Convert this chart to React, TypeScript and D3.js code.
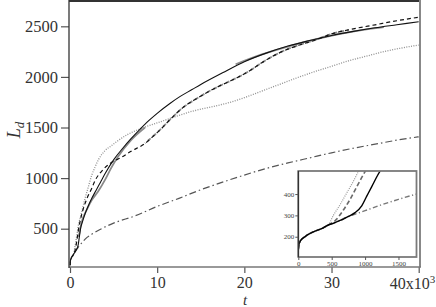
import React, { useRef, useEffect } from "react";
import * as d3 from "d3";

// t in units of 10^3, L_d values
const tCommon = [0, 0.005, 0.012, 0.025, 0.05, 0.1, 0.15, 0.225, 0.3, 0.375, 0.45];
const lCommon = [138, 152, 165, 177, 188, 200, 211, 223, 232, 242, 255];

const tSolid = [0.525, 0.6, 0.675, 0.75, 0.85, 0.95, 1.025, 1.1, 1.225, 1.4, 1.7, 2.06, 2.5, 3, 3.5, 4, 5, 6, 7, 8, 9, 10, 11.5, 12.6, 14, 15, 17.5, 20, 22.5, 25, 27.5, 30, 32.5, 35, 37.5, 40];
const lSolid = [263, 273, 283, 295, 313, 345, 390, 435, 507, 560, 640, 717, 800, 880, 960, 1040, 1180, 1290, 1390, 1480, 1565, 1640, 1740, 1805, 1875, 1925, 2040, 2150, 2235, 2305, 2360, 2410, 2450, 2485, 2515, 2545];

const tSolidGray = [1.0, 1.3, 1.9, 2.5, 3.2, 4, 4.7, 5.5, 7, 8.6, 12, 19, 22, 25, 28, 31, 34, 36];
const lSolidGray = [420, 553, 684, 783, 865, 980, 1096, 1210, 1375, 1500, NaN, 2125, 2222, 2300, 2368, 2425, 2470, 2492];

const tDashed = [0.55, 0.675, 0.775, 0.875, 1.0, 1.2, 1.5, 2.0, 2.5, 2.9, 3.6, 4.6, 5.9, 7, 8.6, 9.5, 10.5, 11.5, 13, 14.5, 16, 17.5, 19, 20.5, 22, 23.5, 25, 26.5, 28, 30, 32.5, 35, 37.5, 40];
const lDashed = [275, 325, 375, 434, 505, 590, 690, 810, 900, 980, 1065, 1145, 1205, 1265, 1342, 1410, 1490, 1580, 1700, 1785, 1860, 1925, 1985, 2055, 2140, 2215, 2275, 2320, 2360, 2425, 2475, 2515, 2555, 2590];

const tDashedGray = [8.6, 10, 11.5, 13, 14.5, 16, 17.5, 19, 20.5, 22, 23.5, 25, 26.5, 28, 30, 32];
const lDashedGray = [1345, 1450, 1580, 1700, 1785, 1860, 1925, 1985, 2055, 2140, 2215, 2277, 2322, 2362, 2425, 2465];

const tDotted = [0.525, 0.625, 0.725, 0.825, 0.9, 1.0, 1.3, 1.7, 2.06, 2.5, 2.83, 3.25, 4, 4.75, 5.5, 6.7, 8, 10, 12, 14, 16, 18, 20, 22, 24, 26, 28, 30, 32, 34, 36, 38, 40];
const lDotted = [300, 350, 405, 460, 505, 550, 650, 790, 900, 1030, 1100, 1180, 1270, 1320, 1370, 1435, 1485, 1545, 1605, 1660, 1700, 1740, 1795, 1860, 1925, 1990, 2050, 2105, 2160, 2205, 2250, 2285, 2315];

const tDashDot = [0.525, 0.6, 0.675, 0.8, 1.0, 1.25, 1.5, 1.77, 2.5, 3.5, 5, 7.5, 10, 12.5, 15, 17.5, 20, 22.5, 25, 27.5, 30, 32.5, 35, 37.5, 40];
const lDashDot = [263, 273, 285, 300, 322, 350, 375, 400, 445, 495, 555, 628, 720, 800, 885, 960, 1030, 1095, 1150, 1200, 1250, 1295, 1335, 1375, 1408];

const xTicks = [0, 10, 20, 30, 40];
const yTicks = [500, 1000, 1500, 2000, 2500];
const xTicksInset = [0, 500, 1000, 1500];
const yTicksInset = [200, 300, 400];

const font = "'Liberation Serif', serif";

const withCommon = (t, l) => {
  const n = tCommon.filter((v) => v < t[0]).length;
  return d3.zip(tCommon.slice(0, n).concat(t), lCommon.slice(0, n).concat(l));
};

const App = () => {
  const ref = useRef(null);

  useEffect(() => {
    const svg = d3.select(ref.current);
    svg.selectAll("*").remove();

    const x = d3.scaleLinear().domain([0, 40]).range([70, 418.7]);
    const y = d3.scaleLinear().domain([121.5, 2760]).range([267, 0]);

    const defs = svg.append("defs");
    defs.append("clipPath").attr("id", "mainClip")
      .append("rect").attr("x", 69.5).attr("y", 0).attr("width", 350).attr("height", 267);

    const series = [
      { pts: withCommon(tSolidGray, lSolidGray).filter((d) => d[0] >= 1.0), color: "#8a8a8a", w: 1.8, dash: null, off: 0, inset: false },
      { pts: d3.zip(tDashedGray, lDashedGray), color: "#8a8a8a", w: 1.8, dash: "4,3", off: 3.5, inset: false },
      { pts: withCommon(tDotted, lDotted), color: "#8f8f8f", w: 1.3, dash: "1,1.4", off: 0, inset: true, icolor: "#999", iw: 1.2, idash: "1,1.2" },
      { pts: withCommon(tDashDot, lDashDot), color: "#555", w: 1.2, dash: "7,3,1.5,3", off: 0, inset: true, icolor: "#777", iw: 1.4, idash: "5,2.5,1.2,2.5" },
      { pts: withCommon(tDashed, lDashed), color: "#111", w: 1.2, dash: "4,3", off: 0, inset: true, icolor: "#6a6a6a", iw: 1.6, idash: "4.5,2.5" },
      { pts: withCommon(tSolid, lSolid), color: "#111", w: 1.1, dash: null, off: 0, inset: true, icolor: "#000", iw: 1.4, idash: null },
    ];

    const line = d3.line()
      .defined((d) => !isNaN(d[1]))
      .x((d) => x(d[0]))
      .y((d) => y(d[1]))
      .curve(d3.curveMonotoneX);

    const g = svg.append("g").attr("clip-path", "url(#mainClip)");
    series.forEach((s) => {
      g.append("path")
        .attr("d", line(s.pts))
        .attr("fill", "none")
        .attr("stroke", s.color)
        .attr("stroke-width", s.w)
        .attr("stroke-dasharray", s.dash)
        .attr("stroke-dashoffset", s.off);
    });

    // frame
    svg.append("line").attr("x1", 69).attr("x2", 421).attr("y1", 1).attr("y2", 1)
      .attr("stroke", "#333").attr("stroke-width", 2);
    svg.append("line").attr("x1", 420).attr("x2", 420).attr("y1", 0).attr("y2", 267)
      .attr("stroke", "#888").attr("stroke-width", 2);

    // x axis
    const xAxis = svg.append("g")
      .attr("transform", "translate(0,267)")
      .call(d3.axisBottom(x).tickValues(xTicks).tickSize(6).tickPadding(4)
        .tickFormat((d) => (d === 40 ? "" : String(d))));
    xAxis.attr("font-family", font);
    xAxis.select(".domain").remove();
    xAxis.append("line").attr("x1", 69).attr("x2", 421).attr("y1", 0).attr("y2", 0)
      .attr("stroke", "#777").attr("stroke-width", 1.6);
    xAxis.selectAll(".tick line").attr("stroke", "#555").attr("stroke-width", 1.2);
    xAxis.selectAll("text").attr("font-family", font).attr("font-size", 16).attr("fill", "#333");
    const last = xAxis.append("text")
      .attr("x", x(40) - 29).attr("y", 22)
      .attr("text-anchor", "start")
      .attr("font-family", font).attr("font-size", 16).attr("fill", "#333");
    last.append("tspan").text("40x10");
    last.append("tspan").attr("dy", -6).attr("font-size", 11).text("3");

    // y axis
    const yAxis = svg.append("g")
      .attr("transform", "translate(69,0)")
      .call(d3.axisLeft(y).tickValues(yTicks).tickSize(8).tickPadding(3).tickFormat(d3.format("d")));
    yAxis.attr("font-family", font);
    yAxis.select(".domain").remove();
    yAxis.append("line").attr("x1", 0).attr("x2", 0).attr("y1", 0).attr("y2", 268)
      .attr("stroke", "#333").attr("stroke-width", 1.3);
    yAxis.selectAll(".tick line").attr("stroke", "#555").attr("stroke-width", 1.2);
    yAxis.selectAll("text").attr("font-family", font).attr("font-size", 16.5).attr("fill", "#333");

    // axis titles
    svg.append("text").attr("x", 245).attr("y", 305)
      .attr("text-anchor", "middle").attr("font-family", font).attr("font-style", "italic")
      .attr("font-size", 15).attr("fill", "#333").text("t");
    const yl = svg.append("text")
      .attr("transform", "translate(20,130) rotate(-90)")
      .attr("text-anchor", "middle").attr("font-family", font).attr("font-style", "italic")
      .attr("font-size", 18).attr("fill", "#333");
    yl.append("tspan").text("L");
    yl.append("tspan").attr("dy", 4).attr("font-size", 13).text("d");

    // inset
    const xi = d3.scaleLinear().domain([0, 1770]).range([298.3, 416.5]);
    const yi = d3.scaleLinear().domain([105, 508]).range([257, 171]);
    defs.append("clipPath").attr("id", "insetClip")
      .append("rect").attr("x", 298.3).attr("y", 171).attr("width", 118.2).attr("height", 86);
    svg.append("rect").attr("x", 298.3).attr("y", 171).attr("width", 118.2).attr("height", 86)
      .attr("fill", "#fff");
    const lineI = d3.line()
      .defined((d) => !isNaN(d[1]))
      .x((d) => xi(d[0] * 1000))
      .y((d) => yi(d[1]))
      .curve(d3.curveMonotoneX);
    const gi = svg.append("g").attr("clip-path", "url(#insetClip)");
    series.filter((s) => s.inset).forEach((s) => {
      gi.append("path")
        .attr("d", lineI(s.pts))
        .attr("fill", "none")
        .attr("stroke", s.icolor)
        .attr("stroke-width", s.iw)
        .attr("stroke-dasharray", s.idash);
    });
    svg.append("rect").attr("x", 298.3).attr("y", 171).attr("width", 118.2).attr("height", 86)
      .attr("fill", "none").attr("stroke", "#7a7a7a").attr("stroke-width", 1.8);
    svg.append("line").attr("x1", 298.3).attr("x2", 298.3).attr("y1", 171).attr("y2", 257)
      .attr("stroke", "#222").attr("stroke-width", 1);

    const xia = svg.append("g").attr("transform", "translate(0,257)")
      .call(d3.axisBottom(xi).tickValues(xTicksInset).tickSize(3).tickPadding(1).tickFormat(d3.format("d")));
    xia.attr("font-family", font);
    xia.select(".domain").remove();
    xia.selectAll(".tick line").attr("stroke", "#555");
    xia.selectAll("text").attr("font-size", 7).attr("fill", "#444");
    const yia = svg.append("g").attr("transform", "translate(298.3,0)")
      .call(d3.axisLeft(yi).tickValues(yTicksInset).tickSize(3).tickPadding(1).tickFormat(d3.format("d")));
    yia.attr("font-family", font);
    yia.select(".domain").remove();
    yia.selectAll(".tick line").attr("stroke", "#555");
    yia.selectAll("text").attr("font-size", 7).attr("fill", "#444");
  }, []);

  return (
    <svg
      ref={ref}
      width={436}
      height={307}
      style={{ position: "absolute", left: 0, top: 0, background: "#fff" }}
    />
  );
};

export default App;
